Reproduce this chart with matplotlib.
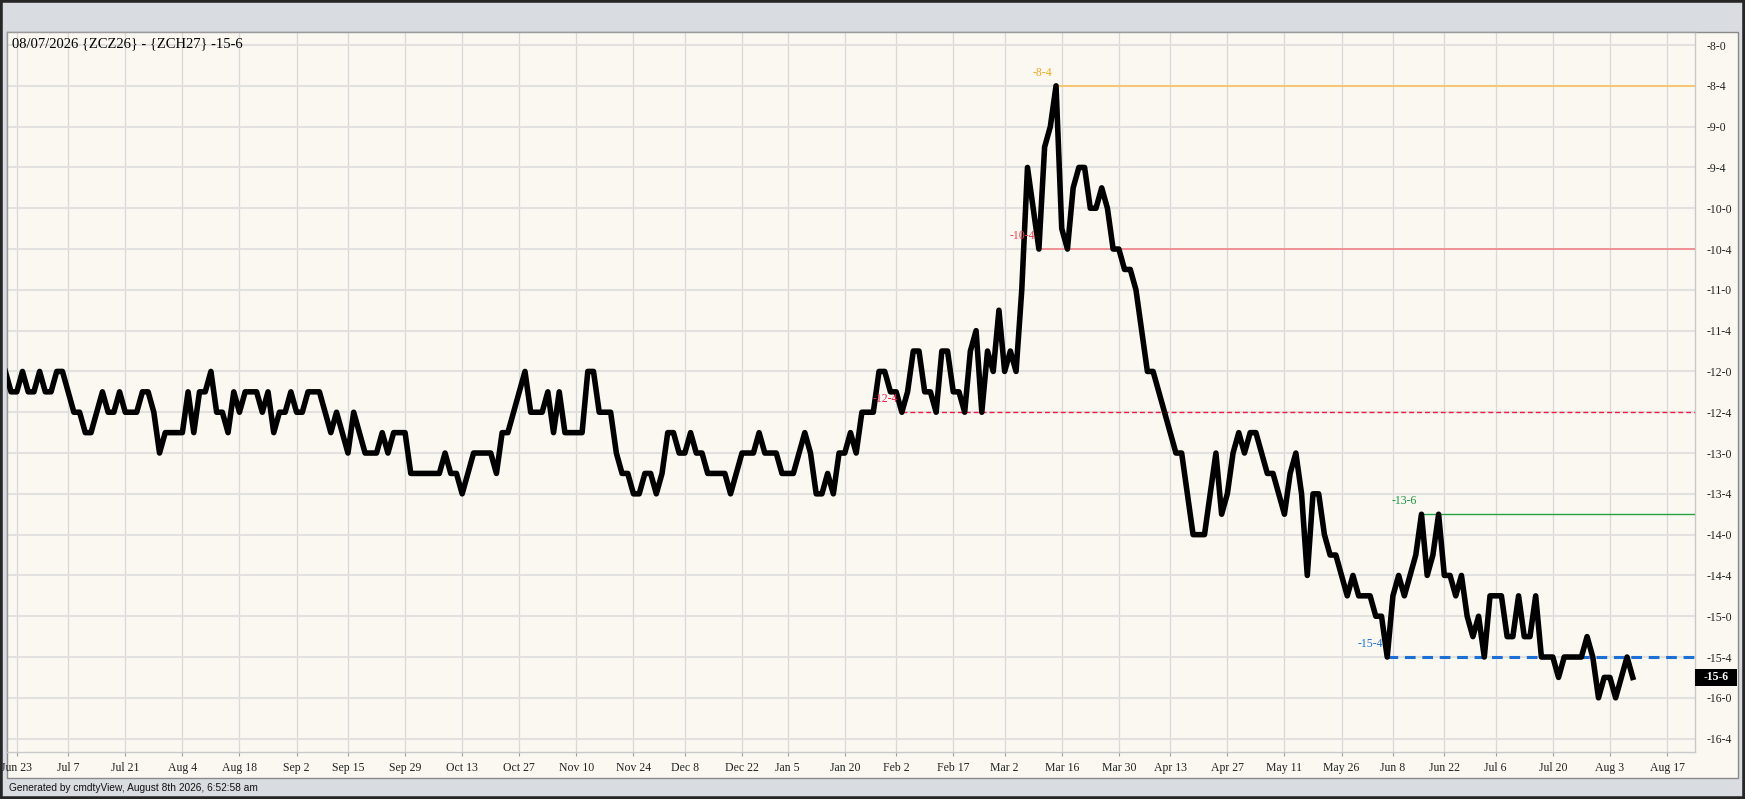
import numpy as np
import matplotlib
matplotlib.use("Agg")
import matplotlib.pyplot as plt
from matplotlib.patches import Rectangle
import matplotlib.transforms as mtransforms

# exchange holidays (no trading) - x axis is trading days, not calendar days
holidays = ['2025-06-19', '2025-07-04', '2025-09-01', '2025-11-27', '2025-12-25',
            '2026-01-01', '2026-01-19', '2026-02-16', '2026-04-03', '2026-05-25',
            '2026-06-19', '2026-07-03']

first_day = '2025-06-18'

# ZCZ26 - ZCH27 spread settles (cents), one per trading day from first_day
spread = [
    -12.0, -12.25, -12.25, -12.0, -12.25, -12.25, -12.0, -12.25, -12.25, -12.0,
    -12.0, -12.25, -12.5, -12.5, -12.75, -12.75, -12.5, -12.25, -12.5, -12.5,
    -12.25, -12.5, -12.5, -12.5, -12.25, -12.25, -12.5, -13.0, -12.75, -12.75,
    -12.75, -12.75, -12.25, -12.75, -12.25, -12.25, -12.0, -12.5, -12.5, -12.75,
    -12.25, -12.5, -12.25, -12.25, -12.25, -12.5, -12.25, -12.75, -12.5, -12.5,
    -12.25, -12.5, -12.5, -12.25, -12.25, -12.25, -12.5, -12.75, -12.5, -12.75,
    -13.0, -12.5, -12.75, -13.0, -13.0, -13.0, -12.75, -13.0, -12.75, -12.75,
    -12.75, -13.25, -13.25, -13.25, -13.25, -13.25, -13.25, -13.0, -13.25, -13.25,
    -13.5, -13.25, -13.0, -13.0, -13.0, -13.0, -13.25, -12.75, -12.75, -12.5,
    -12.25, -12.0, -12.5, -12.5, -12.5, -12.25, -12.75, -12.25, -12.75, -12.75,
    -12.75, -12.75, -12.0, -12.0, -12.5, -12.5, -12.5, -13.0, -13.25, -13.25,
    -13.5, -13.5, -13.25, -13.25, -13.5, -13.25, -12.75, -12.75, -13.0, -13.0,
    -12.75, -13.0, -13.0, -13.25, -13.25, -13.25, -13.25, -13.5, -13.25, -13.0,
    -13.0, -13.0, -12.75, -13.0, -13.0, -13.0, -13.25, -13.25, -13.25, -13.0,
    -12.75, -13.0, -13.5, -13.5, -13.25, -13.5, -13.0, -13.0, -12.75, -13.0,
    -12.5, -12.5, -12.5, -12.0, -12.0, -12.25, -12.25, -12.5, -12.25, -11.75,
    -11.75, -12.25, -12.25, -12.5, -11.75, -11.75, -12.25, -12.25, -12.5, -11.75,
    -11.5, -12.5, -11.75, -12.0, -11.25, -12.0, -11.75, -12.0, -11.0, -9.5,
    -10.0, -10.5, -9.25, -9.0, -8.5, -10.25, -10.5, -9.75, -9.5, -9.5,
    -10.0, -10.0, -9.75, -10.0, -10.5, -10.5, -10.75, -10.75, -11.0, -11.5,
    -12.0, -12.0, -12.25, -12.5, -12.75, -13.0, -13.0, -13.5, -14.0, -14.0,
    -14.0, -13.5, -13.0, -13.75, -13.5, -13.0, -12.75, -13.0, -12.75, -12.75,
    -13.0, -13.25, -13.25, -13.5, -13.75, -13.25, -13.0, -13.5, -14.5, -13.5,
    -13.5, -14.0, -14.25, -14.25, -14.5, -14.75, -14.5, -14.75, -14.75, -14.75,
    -15.0, -15.0, -15.5, -14.75, -14.5, -14.75, -14.5, -14.25, -13.75, -14.5,
    -14.25, -13.75, -14.5, -14.5, -14.75, -14.5, -15.0, -15.25, -15.0, -15.5,
    -14.75, -14.75, -14.75, -15.25, -15.25, -14.75, -15.25, -15.25, -14.75, -15.5,
    -15.5, -15.5, -15.75, -15.5, -15.5, -15.5, -15.5, -15.25, -15.5, -16.0,
    -15.75, -15.75, -16.0, -15.75, -15.5, -15.75,
]

# support / resistance levels drawn on the chart
level_values = [-8.5, -10.5, -12.5, -13.75, -15.5]
level_dates = ['2026-03-13', '2026-03-10', '2026-02-03', '2026-06-15', '2026-06-05']
level_colors = ['#f6c46a', '#f08a90', '#ec1d46', '#26a344', '#1c6fd4']
level_text_colors = ['#f2a81c', '#f2404f', '#ec1d46', '#16963a', '#1c6fd4']
level_styles = ['-', '-', '--', '-', '--']
level_widths = [1.3, 1.3, 1.0, 1.0, 2.2]

title = '08/07/2026 {ZCZ26} - {ZCH27} -15-6'
footer = 'Generated by cmdtyView, August 8th 2026, 6:52:58 am'

# trading calendar
hol = np.array(holidays, dtype='datetime64[D]')
all_days = np.arange(np.datetime64(first_day), np.datetime64('2026-09-30'))
trade_days = all_days[np.is_busday(all_days, holidays=hol)]
x = np.arange(len(spread))


def day_index(d):
    d = np.busday_offset(np.datetime64(d), 0, roll='forward', holidays=hol)
    return int(np.searchsorted(trade_days, d))


# ticks every other monday, moved to next trading day on holidays
tick_dates = np.arange(np.datetime64('2025-06-23'), np.datetime64('2026-08-18'), 14)
tick_pos = [day_index(d) for d in tick_dates]
tick_lab = []
for d in tick_dates:
    dd = np.busday_offset(d, 0, roll='forward', holidays=hol).astype(object)
    tick_lab.append(dd.strftime('%b') + ' ' + str(dd.day))


def price_fmt(v):
    whole = int(abs(v) + 1e-9)
    eighths = int(round((abs(v) - whole) * 8))
    return ('-' if v < 0 else '') + str(whole) + '-' + str(eighths)


cream = '#faf8f1'
panel = '#d9dce0'

fig = plt.figure(figsize=(17.45, 7.99), dpi=100, facecolor=panel)
W, H = 1745, 799

# cream chart panel behind the axes, dark frame on top of everything
fig.patches.append(Rectangle((6.5 / W, 1 - 778 / H), (1738 - 6.5) / W, (778 - 32) / H,
                             transform=fig.transFigure, facecolor=cream,
                             edgecolor='#8a8a8a', linewidth=1, zorder=-5))
fig.patches.append(Rectangle((0, 0), 1, 1, transform=fig.transFigure, fill=False,
                             edgecolor='#262626', linewidth=4, zorder=10))

ax = fig.add_axes([6.5 / W, 1 - 752 / H, (1695 - 6.5) / W, (752 - 32) / H])
ax.set_facecolor(cream)

ax.plot(x, spread, color='black', linewidth=4, solid_joinstyle='round', zorder=5)

x_right = 295.9
for val, d, c, tc, ls, lw in zip(level_values, level_dates, level_colors,
                                 level_text_colors, level_styles, level_widths):
    i = day_index(d)
    if ls == '--':
        ax.hlines(val, i, x_right, colors=c, linewidth=lw, linestyles=(0, (3.5, 2.2)), zorder=4)
    else:
        ax.hlines(val, i, x_right, colors=c, linewidth=lw, zorder=4)
    ax.annotate(price_fmt(val), (i, val), xytext=(-3, 9.5), textcoords='offset points',
                ha='right', va='center', color=tc, fontsize=8.5,
                family='Liberation Serif', zorder=6)

ax.set_xlim(0.2, x_right)
ax.set_ylim(-16.664, -7.84)

yt = np.arange(-8.0, -16.51, -0.5)
ax.set_yticks(yt)
ax.set_yticklabels([price_fmt(v) for v in yt])
ax.yaxis.tick_right()
ax.tick_params(axis='y', length=0, pad=8.5, labelsize=8.5, labelcolor='#222222')

ax.set_xticks(tick_pos)
ax.set_xticklabels(tick_lab)
ax.tick_params(axis='x', length=3, width=0.8, color='#a0a0a0', pad=4,
               labelsize=8.5, labelcolor='#222222')
for lab in ax.get_xticklabels() + ax.get_yticklabels():
    lab.set_family('Liberation Serif')

ax.grid(axis='y', color='#e2e1df', linewidth=1.5, zorder=1)
ax.grid(axis='x', color='#d9d8d8', linewidth=0.9, zorder=1)
ax.set_axisbelow(True)
for s in ax.spines.values():
    s.set_color('#c9c9c9')
    s.set_linewidth(1)
ax.spines['left'].set_color('#9a9a9a')
ax.spines['top'].set_color('#9a9a9a')

# last value box on the price axis
last = spread[-1]
tr = mtransforms.blended_transform_factory(ax.transAxes, ax.transData)
box_w = 42 / (1695 - 6.5)
box_h = 17 / 81.6
ax.add_patch(Rectangle((1.0, last - box_h / 2), box_w, box_h, transform=tr,
                       facecolor='black', edgecolor='none', clip_on=False, zorder=7))
ax.text(1.0 + box_w / 2, last, price_fmt(last), transform=tr, ha='center', va='center',
        color='white', fontsize=8.5, fontweight='bold', family='Liberation Serif', zorder=8)

fig.text(12 / W, 1 - 44 / H, title, ha='left', va='center', fontsize=10.5,
         family='Liberation Serif', color='black')
fig.text(9 / W, 1 - 788 / H, footer, ha='left', va='center', fontsize=7.3,
         family='Liberation Sans', color='#111111')

fig.savefig('out.png', dpi=100, facecolor=panel)
